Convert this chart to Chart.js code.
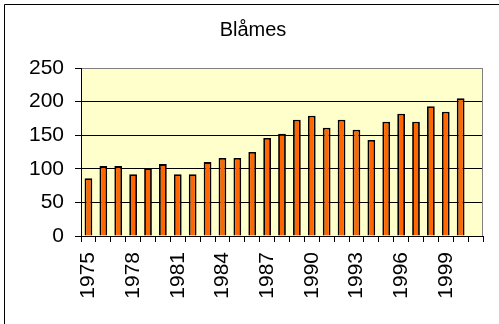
<!DOCTYPE html>
<html>
<head>
<meta charset="utf-8">
<script src="https://cdn.jsdelivr.net/npm/chart.js@4/dist/chart.umd.min.js"></script>
<style>
html,body{margin:0;padding:0;background:#fff;overflow:hidden;}
canvas{display:block;}
</style>
</head>
<body>
<canvas id="c" width="499" height="324"></canvas>
<script>
const title = "Blåmes";
const years = ["1975","1976","1977","1978","1979","1980","1981","1982","1983","1984","1985","1986","1987","1988","1989","1990","1991","1992","1993","1994","1995","1996","1997","1998","1999","2000","2001"];
const counts = [86,104,104,92,101,107,92,92,110,116,116,125,146,152,173,179,161,173,158,143,170,182,170,193,185,205,null];
const shownYearLabels = ["1975","1978","1981","1984","1987","1990","1993","1996","1999"];
const yTicks = [0,50,100,150,200,250];

const FONT = "'Liberation Sans', Arial, sans-serif";

const decor = {
  id: 'decor',
  beforeDraw(chart) {
    const ctx = chart.ctx, a = chart.chartArea;
    ctx.save();
    ctx.fillStyle = '#fff';
    ctx.fillRect(0, 0, chart.width, chart.height);
    ctx.fillStyle = '#FFFFCC';
    ctx.fillRect(a.left, a.top, a.right - a.left, a.bottom - a.top);
    ctx.strokeStyle = '#000';
    ctx.lineWidth = 1;
    ctx.beginPath();
    ctx.moveTo(4.5, chart.height + 2);
    ctx.lineTo(4.5, 4.5);
    ctx.lineTo(chart.width + 2, 4.5);
    ctx.stroke();
    ctx.restore();
  },
  afterDraw(chart) {
    const ctx = chart.ctx, a = chart.chartArea;
    ctx.save();
    ctx.strokeStyle = '#808080';
    ctx.lineWidth = 1;
    ctx.beginPath();
    ctx.moveTo(Math.round(a.right) - 0.5, a.top);
    ctx.lineTo(Math.round(a.right) - 0.5, a.bottom);
    ctx.stroke();
    ctx.restore();
  }
};

new Chart(document.getElementById('c'), {
  type: 'bar',
  data: {
    labels: years,
    datasets: [{
      data: counts,
      backgroundColor: '#FF6600',
      borderColor: '#000000',
      borderWidth: 1.8,
      barPercentage: 0.52,
      categoryPercentage: 1.0
    }]
  },
  options: {
    responsive: false,
    animation: false,
    devicePixelRatio: 1,
    layout: { padding: { left: 23, right: 16, top: 0, bottom: 0 } },
    plugins: {
      legend: { display: false },
      tooltip: { enabled: false },
      title: {
        display: true,
        text: title,
        color: '#000',
        font: { family: FONT, size: 20, weight: 'normal' },
        padding: { top: 18, bottom: 26 }
      }
    },
    scales: {
      x: {
        afterFit(s) { s.height = 88; s.paddingLeft = 0; s.paddingRight = 0; },
        grid: { display: true, drawOnChartArea: false, drawTicks: true, tickLength: 6, offset: true, color: '#000', tickColor: '#000' },
        border: { display: true, color: '#000', width: 1 },
        ticks: {
          autoSkip: false,
          minRotation: 90,
          maxRotation: 90,
          padding: 10,
          color: '#000',
          font: { family: FONT, size: 21 },
          callback(v, i) { const l = years[i]; return shownYearLabels.includes(l) ? l : ''; }
        }
      },
      y: {
        min: 0,
        max: 250,
        afterFit(s) { s.width = 58; s.paddingTop = 0; s.paddingBottom = 0; },
        afterBuildTicks(s) { s.ticks = yTicks.map(v => ({ value: v })); },
        grid: {
          color: (c) => (c.tick && c.tick.value === 250) ? '#808080' : '#000',
          tickColor: '#000',
          lineWidth: 1,
          tickLength: 6
        },
        border: { display: true, color: '#000', width: 1 },
        ticks: {
          padding: 11,
          color: '#000',
          font: { family: FONT, size: 21 }
        }
      }
    }
  },
  plugins: [decor]
});
</script>
</body>
</html>
